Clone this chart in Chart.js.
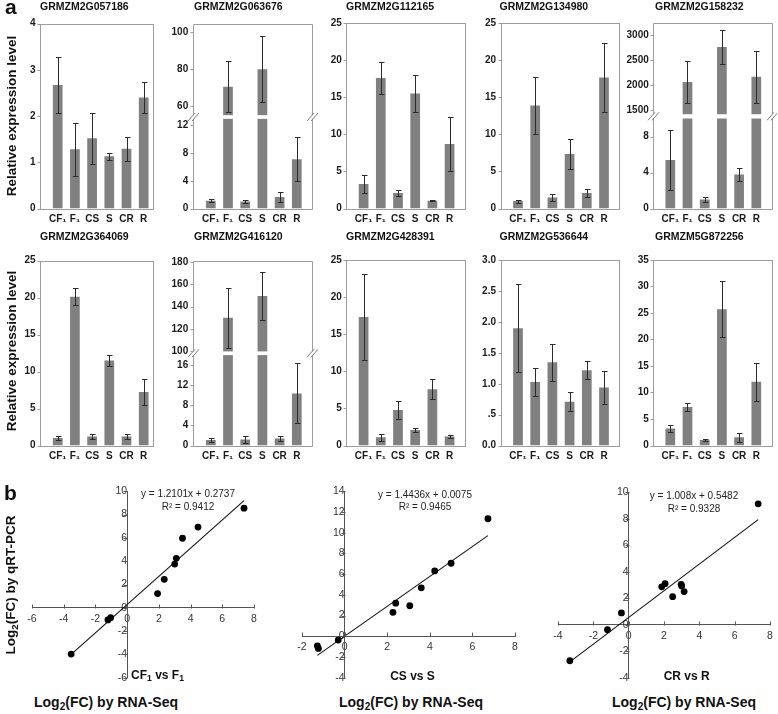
<!DOCTYPE html>
<html><head><meta charset="utf-8">
<script src="https://cdn.jsdelivr.net/npm/chart.js"></script>
<style>
html,body{margin:0;padding:0;background:#fff;}
body{width:778px;height:714px;position:relative;overflow:hidden;font-family:"Liberation Sans",Arial,sans-serif;color:#111;}
canvas{position:absolute;}
.tx{position:absolute;white-space:nowrap;line-height:1;}
.sb{font-size:0.72em;position:relative;top:0.3em;}
</style></head><body>
<script>
// ---------------- DATA ----------------
const categories = ['CF\u2081', 'F\u2081', 'CS', 'S', 'CR', 'R'];
const geneNames = ['GRMZM2G057186','GRMZM2G063676','GRMZM2G112165','GRMZM2G134980','GRMZM2G158232',
                   'GRMZM2G364069','GRMZM2G416120','GRMZM2G428391','GRMZM2G536644','GRMZM5G872256'];

const mean_057186 = [2.67, 1.28, 1.52, 1.13, 1.29, 2.40];
const err_057186  = [0.60, 0.57, 0.55, 0.07, 0.26, 0.33];
const ticks_057186 = [0, 1, 2, 3, 4];

const mean_063676 = [1.10, 70.5, 1.00, 80.0, 1.65, 7.10];
const err_063676  = [0.23, 13.8, 0.20, 18.0, 0.70, 3.15];
const ticks_063676 = [0, 4, 8, 12, 60, 80, 100];

const mean_112165 = [3.30, 17.6, 2.10, 15.5, 1.05, 8.70];
const err_112165  = [1.20, 2.20, 0.45, 2.45, 0.08, 3.60];
const ticks_112165 = [0, 5, 10, 15, 20, 25];

const mean_134980 = [1.00, 13.9, 1.50, 7.35, 2.10, 17.7];
const err_134980  = [0.20, 3.80, 0.48, 1.97, 0.55, 4.60];
const ticks_134980 = [0, 5, 10, 15, 20, 25];

const mean_158232 = [5.40, 2055, 1.00, 2756, 3.80, 2160];
const err_158232  = [3.30, 425, 0.25, 345, 0.73, 525];
const ticks_158232 = [0, 4, 8, 1500, 2000, 2500, 3000];

const mean_364069 = [1.00, 20.1, 1.20, 11.5, 1.20, 7.25];
const err_364069  = [0.32, 1.15, 0.32, 0.75, 0.32, 1.75];
const ticks_364069 = [0, 5, 10, 15, 20, 25];

const mean_416120 = [1.10, 130.0, 1.20, 149.5, 1.40, 10.4];
const err_416120  = [0.43, 26.6, 0.63, 21.0, 0.50, 6.0];
const ticks_416120 = [0, 4, 8, 12, 16, 100, 120, 140, 160, 180];

const mean_428391 = [17.35, 1.10, 4.80, 2.10, 7.60, 1.20];
const err_428391  = [5.80, 0.50, 1.22, 0.28, 1.37, 0.24];
const ticks_428391 = [0, 5, 10, 15, 20, 25];

const mean_536644 = [1.90, 1.03, 1.35, 0.71, 1.22, 0.94];
const err_536644  = [0.71, 0.23, 0.30, 0.15, 0.145, 0.265];
const ticks_536644 = [0, 0.5, 1.0, 1.5, 2.0, 2.5, 3.0];

const mean_872256 = [3.20, 7.26, 1.04, 25.7, 1.55, 12.0];
const err_872256  = [0.73, 0.80, 0.17, 5.25, 0.85, 3.60];
const ticks_872256 = [0, 5, 10, 15, 20, 25, 30, 35];

// panel b: log2 fold changes
const rnaSeq_CF1vsF1 = [-3.53, -1.21, -1.04, 1.92, 2.34, 3.00, 3.10, 3.49, 4.47, 7.37];
const qpcr_CF1vsF1   = [-3.97, -1.04, -0.85, 1.22, 2.44, 3.75, 4.25, 5.97, 6.93, 8.55];
const fit_CF1vsF1 = [1.2101, 0.2737];

const rnaSeq_CSvsS = [-1.28, -1.23, -0.30, 2.27, 2.40, 3.06, 3.60, 4.23, 5.00, 6.73];
const qpcr_CSvsS   = [-0.92, -1.17, -0.37, 2.31, 3.20, 2.95, 4.68, 6.31, 7.05, 11.35];
const fit_CSvsS = [1.4436, 0.0075];

const rnaSeq_CRvsR = [-3.33, -1.20, -0.41, 1.87, 2.06, 2.49, 2.97, 3.00, 3.14, 7.33];
const qpcr_CRvsR   = [-2.72, -0.38, 0.89, 2.86, 3.10, 2.12, 3.05, 2.93, 2.50, 9.13];
const fit_CRvsR = [1.008, 0.5482];

const xTicks_CF1vsF1 = [-6, -4, -2, 0, 2, 4, 6, 8];
const yTicks_CF1vsF1 = [-6, -4, -2, 0, 2, 4, 6, 8, 10];
const xTicks_CSvsS = [-2, 0, 2, 4, 6, 8];
const yTicks_CSvsS = [-4, -2, 0, 2, 4, 6, 8, 10, 12, 14];
const xTicks_CRvsR = [-4, -2, 0, 2, 4, 6, 8];
const yTicks_CRvsR = [-4, -2, 0, 2, 4, 6, 8, 10];

const means = [mean_057186, mean_063676, mean_112165, mean_134980, mean_158232,
               mean_364069, mean_416120, mean_428391, mean_536644, mean_872256];
const errs = [err_057186, err_063676, err_112165, err_134980, err_158232,
              err_364069, err_416120, err_428391, err_536644, err_872256];
const tickSets = [ticks_057186, ticks_063676, ticks_112165, ticks_134980, ticks_158232,
                  ticks_364069, ticks_416120, ticks_428391, ticks_536644, ticks_872256];

// ---------------- LAYOUT ----------------
const FONT = '"Liberation Sans", Arial, sans-serif';
Chart.defaults.font.family = FONT;
const COLS = [
  {frameL: 40,    frameR: 154,   first: 57.7,  titleX: 40},
  {frameL: 192.7, frameR: 313.3, first: 210.8, titleX: 194},
  {frameL: 346.3, frameR: 466,   first: 363.6, titleX: 346},
  {frameL: 500.5, frameR: 620,   first: 518,   titleX: 499.5},
  {frameL: 653.3, frameR: 772.7, first: 670.3, titleX: 655}
];
const ROWS = [{T: 16, B: 208.5, titleBase: 10.2}, {T: 253, B: 445.5, titleBase: 239.5}];
const SPACING = 17.2;
// broken axis definitions: [value, decimal] anchors for low and high segments, gap in decimals
const BREAKS = {
  1: {lo: [0, 0, 12, 0.451], hi: [60, 0.555, 100, 0.955], gap: [0.486, 0.506]},
  4: {lo: [0, 0, 8, 0.387], hi: [1500, 0.532, 3000, 0.936], gap: [0.485, 0.508]},
  6: {lo: [0, 0, 16, 0.434], hi: [100, 0.510, 160, 0.874], gap: [0.490, 0.510]}
};
const BRK = {}, GEOM = {};

const lin = (s, v) => s[1] + (v - s[0]) * (s[3] - s[1]) / (s[2] - s[0]);
const inv = (s, d) => s[0] + (d - s[1]) * (s[2] - s[0]) / (s[3] - s[1]);

class BrokenScale extends Chart.LinearScale {
  _dec(v) {
    const b = BRK[this.chart.canvas.id];
    const vLo = inv(b.lo, b.gap[0]), vHi = inv(b.hi, b.gap[1]);
    if (v <= vLo) return lin(b.lo, v);
    if (v >= vHi) return lin(b.hi, v);
    return b.gap[0] + (v - vLo) / (vHi - vLo) * (b.gap[1] - b.gap[0]);
  }
  getPixelForValue(v) {
    if (v === null || v === undefined || isNaN(v)) return NaN;
    return this.getPixelForDecimal(this._dec(v));
  }
  getValueForPixel(p) {
    const b = BRK[this.chart.canvas.id];
    const d = this.getDecimalForPixel(p);
    if (d <= b.gap[0]) return inv(b.lo, d);
    return inv(b.hi, d);
  }
}
BrokenScale.id = 'broken';
BrokenScale.defaults = Chart.LinearScale.defaults;
Chart.register(BrokenScale);

function addText(html, x, baseline, size, o) {
  o = o || {};
  const d = document.createElement('div');
  d.className = 'tx';
  d.innerHTML = html;
  d.style.fontSize = size + 'px';
  d.style.fontWeight = o.bold ? 'bold' : 'normal';
  d.style.color = o.color || '#111';
  if (o.rotate) {
    d.style.left = x + 'px'; d.style.top = baseline + 'px';
    d.style.transform = 'translate(-50%,-50%) rotate(-90deg)';
  } else {
    d.style.top = (baseline - 0.8465 * size) + 'px';
    d.style.left = x + 'px';
    if (o.center) d.style.transform = 'translateX(-50%)';
  }
  document.body.appendChild(d);
}

const errorBarPlugin = {
  id: 'errbars',
  afterDatasetsDraw(chart) {
    const ctx = chart.ctx, ys = chart.scales.y;
    const ds = chart.data.datasets[0], meta = chart.getDatasetMeta(0);
    ctx.save();
    ctx.strokeStyle = '#2b2b2b'; ctx.lineWidth = 1;
    meta.data.forEach((bar, i) => {
      const x = Math.round(bar.x) + 0.5;
      const yt = Math.round(ys.getPixelForValue(ds.data[i] + ds.errors[i])) + 0.5;
      const yb = Math.round(ys.getPixelForValue(Math.max(0, ds.data[i] - ds.errors[i]))) + 0.5;
      ctx.beginPath();
      ctx.moveTo(x, yt); ctx.lineTo(x, yb);
      ctx.moveTo(x - 2.5, yt); ctx.lineTo(x + 3, yt);
      ctx.moveTo(x - 2.5, yb); ctx.lineTo(x + 3, yb);
      ctx.stroke();
    });
    ctx.restore();
  }
};

const framePlugin = {
  id: 'frame',
  afterDraw(chart) {
    const g = GEOM[chart.canvas.id], ctx = chart.ctx, ys = chart.scales.y;
    const b = BRK[chart.canvas.id];
    const L = Math.round(g.fl) + 0.5, R = Math.round(g.fr) - 0.5;
    const T = Math.round(chart.chartArea.top) + 0.5, B = Math.round(chart.chartArea.bottom) + 0.5;
    ctx.save();
    ctx.lineWidth = 1;
    ctx.strokeStyle = '#9d9d9d';
    if (b) {
      const gy0 = ys.getPixelForDecimal(b.gap[1]), gy1 = ys.getPixelForDecimal(b.gap[0]);
      ctx.fillStyle = '#fff';
      ctx.fillRect(L + 0.5, gy0, R - L - 1, gy1 - gy0);
      ctx.beginPath();
      ctx.moveTo(L, T); ctx.lineTo(R, T);
      ctx.moveTo(L, B); ctx.lineTo(R, B);
      ctx.moveTo(L, T); ctx.lineTo(L, gy0);
      ctx.moveTo(L, gy1); ctx.lineTo(L, B);
      ctx.moveTo(R, T); ctx.lineTo(R, gy0);
      ctx.moveTo(R, gy1); ctx.lineTo(R, B);
      ctx.stroke();
      const yc = (gy0 + gy1) / 2;
      ctx.strokeStyle = '#7a7a7a';
      ctx.beginPath();
      [L, R].forEach(x => {
        [-2, 2].forEach(dx => {
          ctx.moveTo(x + dx - 3.5, yc + 4); ctx.lineTo(x + dx + 3.5, yc - 4);
        });
      });
      ctx.stroke();
      ctx.strokeStyle = '#9d9d9d';
    } else {
      ctx.strokeRect(L, T, R - L, B - T);
    }
    ctx.beginPath();
    ys.ticks.forEach(t => {
      const p = Math.round(ys.getPixelForValue(t.value)) + 0.5;
      ctx.moveTo(L - 3, p); ctx.lineTo(L, p);
    });
    ctx.stroke();
    ctx.restore();
  }
};

function fmtTick(idx) {
  if (idx === 8) return v => v === 0 ? '0.0' : (v < 1 ? '.' + String(v).split('.')[1] : v.toFixed(1));
  return v => String(v);
}

function makeBar(idx) {
  const col = COLS[idx % 5], row = ROWS[Math.floor(idx / 5)];
  const areaL = col.first - SPACING / 2, areaR = areaL + 6 * SPACING;
  const cL = Math.floor(col.frameL - 40), cR = Math.min(778, Math.ceil(col.frameR + 4));
  const cT = Math.floor(row.T - 12), cB = Math.ceil(row.B + 22);
  const cv = document.createElement('canvas');
  cv.id = 'bar' + idx;
  cv.width = cR - cL; cv.height = cB - cT;
  cv.style.left = cL + 'px'; cv.style.top = cT + 'px';
  document.body.appendChild(cv);
  GEOM[cv.id] = {fl: col.frameL - cL, fr: col.frameR - cL};
  const brk = BREAKS[idx];
  if (brk) BRK[cv.id] = brk;
  const ticks = tickSets[idx];
  const yMax = brk ? inv(brk.hi, 1) : ticks[ticks.length - 1];
  addText(geneNames[idx], col.titleX, row.titleBase, 10.5, {bold: true});
  new Chart(cv, {
    type: 'bar',
    data: {labels: categories, datasets: [{
      data: means[idx], errors: errs[idx], backgroundColor: '#808080', borderWidth: 0,
      barPercentage: 0.565, categoryPercentage: 1
    }]},
    options: {
      responsive: false, animation: false, events: [], devicePixelRatio: 1,
      layout: {padding: {left: 0, right: cR - cL - (areaR - cL), top: row.T - cT, bottom: 0}},
      plugins: {legend: {display: false}, tooltip: {enabled: false}},
      scales: {
        x: {type: 'category', offset: true,
            grid: {display: false, drawTicks: false}, border: {display: false},
            ticks: {padding: 4.5, color: '#1a1a1a', font: {size: 10, weight: 'bold'}, maxRotation: 0, autoSkip: false},
            afterFit: s => { s.height = cB - row.B; }},
        y: {type: brk ? 'broken' : 'linear', min: 0, max: yMax,
            grid: {display: false, drawTicks: false}, border: {display: false},
            ticks: {padding: areaL - col.frameL + 4.5, color: '#1a1a1a', font: {size: 10, weight: 'bold'},
                    autoSkip: false, callback: fmtTick(idx)},
            afterBuildTicks: s => { s.ticks = ticks.map(v => ({value: v})); },
            afterFit: s => { s.width = areaL - cL; }}
      }
    },
    plugins: [errorBarPlugin, framePlugin]
  });
}
for (let i = 0; i < 10; i++) makeBar(i);

// ---------------- SCATTER ----------------
const axisTickPlugin = {
  id: 'axticks',
  afterDraw(chart) {
    const ctx = chart.ctx, xs = chart.scales.x, ys = chart.scales.y;
    const x0 = Math.round(xs.getPixelForValue(0)) + 0.5, y0 = Math.round(ys.getPixelForValue(0)) + 0.5;
    ctx.save();
    ctx.strokeStyle = '#555'; ctx.lineWidth = 1;
    ctx.beginPath();
    xs.ticks.forEach(t => { const p = Math.round(xs.getPixelForValue(t.value)) + 0.5; ctx.moveTo(p, y0); ctx.lineTo(p, y0 - 4); });
    ys.ticks.forEach(t => { const p = Math.round(ys.getPixelForValue(t.value)) + 0.5; ctx.moveTo(x0 - 4, p); ctx.lineTo(x0, p); });
    ctx.stroke();
    ctx.restore();
  }
};

const SCAT = [
  {x: rnaSeq_CF1vsF1, y: qpcr_CF1vsF1, fit: fit_CF1vsF1, xt: xTicks_CF1vsF1, yt: yTicks_CF1vsF1,
   l: 32, r: 254, t: 488, b: 683},
  {x: rnaSeq_CSvsS, y: qpcr_CSvsS, fit: fit_CSvsS, xt: xTicks_CSvsS, yt: yTicks_CSvsS,
   l: 302, r: 515, t: 488, b: 683},
  {x: rnaSeq_CRvsR, y: qpcr_CRvsR, fit: fit_CRvsR, xt: xTicks_CRvsR, yt: yTicks_CRvsR,
   l: 558, r: 770, t: 489, b: 683}
];

function makeScatter(k) {
  const s = SCAT[k];
  const cL = Math.floor(s.l - 30), cR = Math.min(778, Math.ceil(s.r + 8));
  const cT = Math.floor(s.t - 10), cB = Math.ceil(s.b + 8);
  const cv = document.createElement('canvas');
  cv.id = 'sc' + k;
  cv.width = cR - cL; cv.height = cB - cT;
  cv.style.left = cL + 'px'; cv.style.top = cT + 'px';
  document.body.appendChild(cv);
  const minX = Math.min(...s.x), maxX = Math.max(...s.x);
  const tickFont = {size: 10.5};
  new Chart(cv, {
    type: 'scatter',
    data: {datasets: [
      {data: s.x.map((v, i) => ({x: v, y: s.y[i]})), pointRadius: 3.4, pointBackgroundColor: '#000',
       pointBorderWidth: 0, borderColor: '#000'},
      {type: 'line', data: [{x: minX, y: s.fit[0] * minX + s.fit[1]}, {x: maxX, y: s.fit[0] * maxX + s.fit[1]}],
       borderColor: '#111', borderWidth: 1.1, pointRadius: 0, fill: false}
    ]},
    options: {
      responsive: false, animation: false, events: [], devicePixelRatio: 1,
      layout: {padding: {left: s.l - cL, right: cR - s.r, top: s.t - cT, bottom: cB - s.b}},
      plugins: {legend: {display: false}, tooltip: {enabled: false}},
      scales: {
        x: {type: 'linear', min: s.xt[0], max: s.xt[s.xt.length - 1], position: {y: 0},
            grid: {display: false, drawTicks: false}, border: {display: true, color: '#555', width: 1},
            ticks: {padding: 5, color: '#333', font: tickFont, maxRotation: 0, autoSkip: false, callback: v => String(v)},
            afterBuildTicks: sc => { sc.ticks = s.xt.map(v => ({value: v})); }},
        y: {type: 'linear', min: s.yt[0], max: s.yt[s.yt.length - 1], position: {x: 0},
            grid: {display: false, drawTicks: false}, border: {display: true, color: '#555', width: 1},
            ticks: {padding: 7, color: '#333', font: tickFont, autoSkip: false, callback: v => String(v)},
            afterBuildTicks: sc => { sc.ticks = s.yt.map(v => ({value: v})); }}
      }
    },
    plugins: [axisTickPlugin]
  });
}
for (let k = 0; k < 3; k++) makeScatter(k);

// ---------------- TEXT ----------------
addText('a', 5, 14, 21, {bold: true});
addText('b', 4, 500, 21, {bold: true});
addText('Relative expression level', 12, 116, 13.5, {bold: true, rotate: true});
addText('Relative expression level', 12, 351, 13.5, {bold: true, rotate: true});
addText('Log<span class="sb">2</span>(FC) by qRT-PCR', 11, 585, 13.5, {bold: true, rotate: true});
[106, 411, 684].forEach(x => addText('Log<span class="sb">2</span>(FC) by RNA-Seq', x, 707, 14, {bold: true, center: true}));
addText('CF<span class="sb">1</span> vs F<span class="sb">1</span>', 157.5, 679, 12, {bold: true, center: true});
addText('CS vs S', 412.5, 680, 12, {bold: true, center: true});
addText('CR vs R', 686.7, 680, 12, {bold: true, center: true});
const eqX = [188, 425, 694], eqB = [497.5, 498, 499], r2B = [510.5, 510.5, 512];
const eqTxt = ['y = 1.2101x + 0.2737', 'y = 1.4436x + 0.0075', 'y = 1.008x + 0.5482'];
const r2Txt = ['R\u00b2 = 0.9412', 'R\u00b2 = 0.9465', 'R\u00b2 = 0.9328'];
for (let k = 0; k < 3; k++) {
  addText(eqTxt[k], eqX[k], eqB[k], 10, {center: true, color: '#222'});
  addText(r2Txt[k], eqX[k], r2B[k], 10, {center: true, color: '#222'});
}
</script>
</body></html>
